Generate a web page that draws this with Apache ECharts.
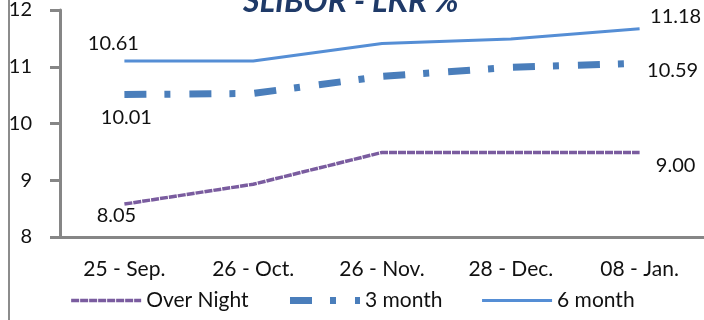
<!DOCTYPE html>
<html>
<head>
<meta charset="utf-8">
<script src="https://cdn.jsdelivr.net/npm/echarts@6/dist/echarts.min.js"></script>
<style>
  html, body { margin: 0; padding: 0; background: #fff; }
  #chart { width: 704px; height: 320px; }
</style>
</head>
<body>
<div id="chart"></div>
<script>
  // SLIBOR - LKR %
  const categories = ['25 - Sep.', '26 - Oct.', '26 - Nov.', '28 - Dec.', '08 - Jan.']
  const overNight = [8.58, 8.93, 9.49, 9.49, 9.49]
  const threeMonth = [10.51, 10.53, 10.83, 10.99, 11.06]
  const sixMonth = [11.10, 11.10, 11.41, 11.49, 11.67]
  // printed labels (first / last point)
  const overNightLabels = ['8.05', '9.00']
  const threeMonthLabels = ['10.01', '10.59']
  const sixMonthLabels = ['10.61', '11.18']
  const yTicks = [8, 9, 10, 11, 12]

  const font = 'Lato'
  const styles = {
    'Over Night': { color: '#7a5c9f', width: 3.5, type: [8, 1] },
    '3 month': { color: '#4a7ebb', width: 7, type: [22, 18, 6, 19] },
    '6 month': { color: '#558ed5', width: 3, type: 'solid' }
  }

  // only first and last points carry a label
  function withEnds(values, texts, firstOffset, lastOffset) {
    return values.map((v, i) => {
      let item = { value: v }
      if (i === 0 || i === values.length - 1) {
        item.label = {
          show: true,
          formatter: i === 0 ? texts[0] : texts[1],
          offset: i === 0 ? firstOffset : lastOffset
        }
      }
      return item
    })
  }

  function makeSeries(name, values, texts, firstOffset, lastOffset) {
    let s = styles[name]
    return {
      name: name,
      type: 'line',
      symbol: 'circle',
      symbolSize: 1,
      showSymbol: true,
      data: withEnds(values, texts, firstOffset, lastOffset),
      lineStyle: { color: s.color, width: s.width, type: s.type },
      itemStyle: { color: 'rgba(0,0,0,0)', borderWidth: 0 },
      label: { position: 'inside', fontSize: 20, color: '#111', fontFamily: font },
      emphasis: { disabled: true }
    }
  }

  let chart = echarts.init(document.getElementById('chart'))
  let option = {
    animation: false,
    textStyle: { fontFamily: font },
    title: {
      text: 'SLIBOR - LKR %',
      left: 238,
      top: -19,
      textStyle: { fontFamily: font, fontSize: 32, fontWeight: 'bold', fontStyle: 'italic', color: '#1f3a68' }
    },
    grid: { left: 60, right: -1, top: 5, bottom: 83, containLabel: false },
    legend: {
      bottom: 4,
      left: 'center',
      itemWidth: 70,
      itemHeight: 14,
      itemGap: 38,
      textStyle: { fontFamily: font, fontSize: 21, color: '#111' },
      data: Object.keys(styles).map(name => ({
        name: name,
        itemStyle: { opacity: 0 },
        lineStyle: { color: styles[name].color, width: styles[name].width, type: styles[name].type }
      }))
    },
    xAxis: {
      type: 'category',
      data: categories,
      boundaryGap: true,
      axisLine: { lineStyle: { color: '#868686', width: 3 } },
      axisTick: { show: false },
      axisLabel: { margin: 22, fontSize: 21, color: '#111', fontFamily: font }
    },
    yAxis: {
      type: 'value',
      min: yTicks[0],
      max: yTicks[yTicks.length - 1],
      interval: 1,
      splitLine: { show: false },
      axisLine: { show: true, lineStyle: { color: '#868686', width: 3 } },
      axisTick: { show: true, length: 10, lineStyle: { color: '#868686', width: 3 } },
      axisLabel: { margin: 28, fontSize: 20, color: '#111', fontFamily: font }
    },
    graphic: [{
      type: 'line',
      shape: { x1: 9, y1: 0, x2: 9, y2: 320 },
      style: { stroke: '#8c8c8c', lineWidth: 2 }
    }],
    series: [
      makeSeries('Over Night', overNight, overNightLabels, [-8, 11], [36, 13]),
      makeSeries('3 month', threeMonth, threeMonthLabels, [2, 23], [33, 7]),
      makeSeries('6 month', sixMonth, sixMonthLabels, [-11, -18], [36, -12])
    ]
  }
  chart.setOption(option)
</script>
</body>
</html>
